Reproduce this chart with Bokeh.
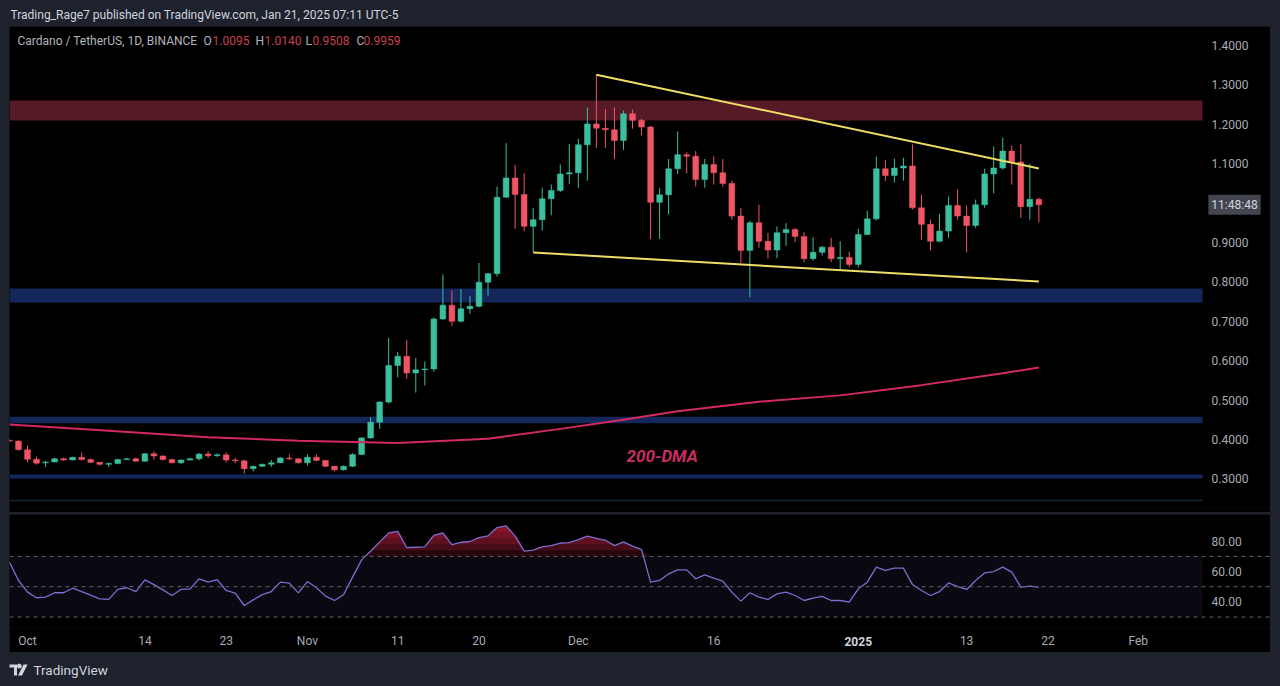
import numpy as np
import pandas as pd
from bokeh.plotting import figure
from bokeh.layouts import column
from bokeh.models import (Range1d, FixedTicker, NumeralTickFormatter, BoxAnnotation,
                          Span, Label, ColumnDataSource, LinearAxis)
from bokeh.embed import file_html
from bokeh.resources import INLINE

# ---------------- data ----------------
dates = pd.date_range("2024-09-29", "2025-01-21", freq="D")
opens = [0.398, 0.396, 0.374, 0.350, 0.341, 0.343, 0.351, 0.348, 0.355, 0.349,
         0.342, 0.337, 0.339, 0.349, 0.351, 0.345, 0.364, 0.358, 0.349, 0.341,
         0.348, 0.351, 0.363, 0.359, 0.361, 0.348, 0.346, 0.326, 0.332, 0.337,
         0.341, 0.353, 0.351, 0.341, 0.355, 0.347, 0.332, 0.323, 0.332, 0.362,
         0.404, 0.444, 0.495, 0.588, 0.611, 0.569, 0.577, 0.579, 0.706, 0.741,
         0.700, 0.732, 0.738, 0.799, 0.821, 1.015, 1.064, 1.022, 0.941, 0.958,
         1.011, 1.032, 1.074, 1.077, 1.148, 1.201, 1.190, 1.186, 1.159, 1.227,
         1.210, 1.193, 1.002, 1.021, 1.087, 1.123, 1.119, 1.060, 1.098, 1.077,
         1.050, 0.967, 0.880, 0.950, 0.903, 0.881, 0.925, 0.933, 0.915, 0.859,
         0.875, 0.888, 0.859, 0.862, 0.844, 0.920, 0.960, 1.087, 1.070, 1.089,
         1.094, 0.988, 0.946, 0.903, 0.929, 0.994, 0.967, 0.943, 0.996, 1.074,
         1.089, 1.132, 1.104, 0.991, 1.0095]
highs = [0.400, 0.398, 0.385, 0.357, 0.345, 0.354, 0.354, 0.356, 0.367, 0.352,
         0.343, 0.342, 0.351, 0.353, 0.354, 0.366, 0.370, 0.360, 0.351, 0.349,
         0.354, 0.366, 0.370, 0.365, 0.367, 0.353, 0.348, 0.333, 0.339, 0.348,
         0.355, 0.362, 0.353, 0.362, 0.362, 0.348, 0.333, 0.334, 0.365, 0.406,
         0.457, 0.497, 0.658, 0.622, 0.653, 0.607, 0.598, 0.710, 0.819, 0.778,
         0.782, 0.764, 0.848, 0.823, 1.042, 1.152, 1.097, 1.076, 0.988, 1.039,
         1.047, 1.098, 1.150, 1.163, 1.243, 1.328, 1.239, 1.243, 1.235, 1.237,
         1.214, 1.196, 1.038, 1.112, 1.182, 1.129, 1.132, 1.112, 1.119, 1.112,
         1.057, 0.988, 0.955, 0.996, 0.924, 0.941, 0.949, 0.937, 0.926, 0.913,
         0.892, 0.912, 0.903, 0.877, 0.935, 0.981, 1.118, 1.110, 1.113, 1.115,
         1.149, 1.022, 0.958, 0.973, 1.017, 1.035, 0.994, 1.009, 1.087, 1.144,
         1.166, 1.146, 1.150, 1.100, 1.0140]
lows = [0.394, 0.372, 0.342, 0.336, 0.330, 0.342, 0.346, 0.347, 0.347, 0.340,
        0.334, 0.330, 0.337, 0.348, 0.344, 0.343, 0.349, 0.347, 0.339, 0.338,
        0.347, 0.347, 0.353, 0.356, 0.342, 0.340, 0.313, 0.319, 0.330, 0.330,
        0.340, 0.348, 0.339, 0.334, 0.345, 0.330, 0.319, 0.321, 0.330, 0.360,
        0.402, 0.427, 0.491, 0.558, 0.554, 0.519, 0.537, 0.572, 0.703, 0.688,
        0.697, 0.719, 0.735, 0.765, 0.814, 1.013, 0.935, 0.929, 0.875, 0.930,
        0.969, 1.028, 1.049, 1.038, 1.057, 1.140, 1.140, 1.112, 1.135, 1.189,
        1.172, 0.909, 0.909, 0.971, 1.074, 1.076, 1.042, 1.039, 1.047, 1.042,
        0.958, 0.848, 0.761, 0.887, 0.859, 0.860, 0.891, 0.901, 0.850, 0.854,
        0.867, 0.850, 0.829, 0.837, 0.837, 0.919, 0.956, 1.056, 1.052, 1.057,
        0.984, 0.907, 0.880, 0.900, 0.912, 0.958, 0.875, 0.937, 0.988, 1.025,
        1.085, 1.047, 0.963, 0.958, 0.9508]
closes = [0.396, 0.374, 0.350, 0.340, 0.343, 0.351, 0.348, 0.355, 0.349, 0.342,
          0.337, 0.339, 0.349, 0.351, 0.345, 0.364, 0.358, 0.349, 0.341, 0.348,
          0.351, 0.363, 0.359, 0.361, 0.348, 0.346, 0.326, 0.332, 0.337, 0.341,
          0.353, 0.351, 0.341, 0.355, 0.347, 0.332, 0.323, 0.332, 0.362, 0.404,
          0.444, 0.495, 0.588, 0.611, 0.569, 0.577, 0.579, 0.706, 0.741, 0.700,
          0.732, 0.738, 0.799, 0.821, 1.015, 1.064, 1.022, 0.941, 0.958, 1.011,
          1.032, 1.074, 1.077, 1.148, 1.201, 1.190, 1.186, 1.159, 1.227, 1.210,
          1.193, 1.002, 1.021, 1.087, 1.123, 1.119, 1.060, 1.098, 1.077, 1.050,
          0.967, 0.880, 0.950, 0.903, 0.881, 0.925, 0.933, 0.915, 0.859, 0.875,
          0.888, 0.859, 0.862, 0.844, 0.920, 0.960, 1.087, 1.070, 1.089, 1.094,
          0.988, 0.946, 0.903, 0.929, 0.994, 0.967, 0.943, 0.996, 1.074, 1.089,
          1.132, 1.104, 0.991, 1.0095, 0.9959]
rsi = [66.2, 54.1, 46.4, 42.7, 43.1, 46.0, 46.0, 49.0, 46.8, 44.4,
       42.0, 41.6, 48.2, 49.3, 46.8, 54.5, 51.4, 47.9, 44.2, 48.2,
       48.6, 55.2, 53.0, 54.7, 47.5, 45.8, 37.6, 41.3, 44.8, 46.8,
       53.0, 52.3, 45.9, 53.4, 49.3, 43.8, 40.9, 44.7, 56.3, 67.7,
       73.4, 79.4, 85.4, 86.5, 75.7, 76.0, 76.2, 83.9, 85.4, 77.8,
       79.3, 79.8, 82.4, 83.5, 89.0, 90.1, 83.3, 73.4, 74.1, 76.2,
       77.1, 78.8, 79.0, 81.0, 83.3, 81.9, 80.6, 77.1, 79.5, 76.8,
       74.4, 53.0, 54.1, 58.5, 61.1, 61.1, 55.2, 57.8, 55.6, 53.6,
       46.4, 40.5, 46.0, 43.1, 41.6, 45.3, 46.4, 44.2, 40.9, 42.5,
       43.6, 40.9, 40.9, 39.8, 48.6, 53.0, 62.9, 60.7, 62.2, 62.2,
       51.5, 47.5, 44.2, 46.8, 52.5, 50.1, 48.2, 54.1, 59.1, 60.0,
       62.9, 59.6, 49.7, 50.4, 49.7]

dma_dates = ["2024-09-29", "2024-10-10", "2024-10-21", "2024-10-31", "2024-11-11",
             "2024-11-21", "2024-11-29", "2024-12-06", "2024-12-12", "2024-12-21",
             "2024-12-30", "2025-01-08", "2025-01-17", "2025-01-21"]
dma_values = [0.438, 0.422, 0.406, 0.397, 0.391, 0.402, 0.427, 0.450, 0.472, 0.496,
              0.512, 0.538, 0.568, 0.583]

upper_line_dates = ["2024-12-03", "2025-01-21"]
upper_line_prices = [1.326, 1.088]
lower_line_dates = ["2024-11-26", "2025-01-21"]
lower_line_prices = [0.8746, 0.801]

resistance_zone = (1.2096, 1.2604)
support_zones = [(0.748, 0.783), (0.441, 0.458), (0.301, 0.311)]
faint_zone = (0.243, 0.247)

price_ticks = [0.3, 0.4, 0.5, 0.6, 0.7, 0.8, 0.9, 1.1, 1.2, 1.3, 1.4]
rsi_ticks = [40, 60, 80]
rsi_levels = [70, 50, 30]
date_tick_days = ["2024-10-01", "2024-10-14", "2024-10-23", "2024-11-01", "2024-11-11",
                  "2024-11-20", "2024-12-01", "2024-12-16", "2025-01-13",
                  "2025-01-22", "2025-02-01"]
date_tick_labels = ["Oct", "14", "23", "Nov", "11", "20", "Dec", "16", "13", "22", "Feb"]
year_tick_day = "2025-01-01"
year_tick_label = "2025"

# ---------------- styling ----------------
SLATE = "#1e222d"
BLACK = "#000000"
UP = "#3cbf9e"
DOWN = "#f05566"
AXIS_TXT = "#a9acb5"
FONT = "Roboto"

ORIGIN = pd.Timestamp("2024-10-01")
def to_x(ds):
    return np.array([(pd.Timestamp(d) - ORIGIN).days for d in ds], dtype=float)

x = to_x(dates)

# page-pixel geometry: day 0 at x=27 px, 9.03 px per day; frame spans 9..1270
PX0, PPD = 27.0, 9.03
def px2x(px):
    return (px - PX0) / PPD
X0, X1 = px2x(9), px2x(1270)      # frame (incl. price-scale strip)
XS = px2x(1202)                   # where the plotting area meets the price scale
P_BOT, P_TOP = 0.2249, 1.4482
R_BOT, R_TOP = 23.1, 97.6
def py2p(py):
    return P_TOP - (py - 26) / 482.0 * (P_TOP - P_BOT)

def style_right_axis(ax, ticks, fmt):
    ax.ticker = FixedTicker(ticks=ticks)
    ax.formatter = NumeralTickFormatter(format=fmt)
    ax.axis_line_color = None
    ax.major_tick_line_color = None
    ax.minor_tick_line_color = None
    ax.major_tick_out = 0
    ax.minor_tick_out = 0
    ax.major_label_standoff = -59
    ax.major_label_text_color = AXIS_TXT
    ax.major_label_text_font = FONT
    ax.major_label_text_font_size = "12px"

def style_date_axis(ax, ticks, labels, standoff, color, style):
    ax.ticker = FixedTicker(ticks=list(ticks))
    ax.major_label_overrides = {float(t): lab for t, lab in zip(ticks, labels)}
    ax.axis_line_color = None
    ax.major_tick_line_color = None
    ax.minor_tick_line_color = None
    ax.major_tick_out = 0
    ax.minor_tick_out = 0
    ax.major_label_standoff = standoff
    ax.major_label_text_color = color
    ax.major_label_text_font = FONT
    ax.major_label_text_font_size = "12px"
    ax.major_label_text_font_style = style

# ---------------- header ----------------
head = figure(width=1280, height=26, x_range=Range1d(0, 1280), y_range=Range1d(26, 0),
              output_backend="svg", toolbar_location=None, x_axis_location=None,
              y_axis_location=None, min_border=0, outline_line_color=None,
              background_fill_color=SLATE, border_fill_color=SLATE)
head.grid.visible = False
head.add_layout(Label(x=10, y=14, text="Trading_Rage7 published on TradingView.com, Jan 21, 2025 07:11 UTC-5",
                      text_font=FONT, text_font_size="12px", text_color="#d1d4dc",
                      text_baseline="middle", text_align="left"))

# ---------------- price pane ----------------
p = figure(width=1261, height=486, x_range=Range1d(X0, X1), y_range=Range1d(P_BOT, P_TOP),
           output_backend="svg", toolbar_location=None, x_axis_location=None,
           y_axis_location="right", min_border_left=0, min_border_right=0,
           min_border_top=0, min_border_bottom=4, outline_line_color=None,
           background_fill_color=BLACK, border_fill_color=BLACK)
p.margin = (0, 10, 0, 9)
p.grid.visible = False
style_right_axis(p.yaxis[0], price_ticks, "0.0000")

p.add_layout(BoxAnnotation(right=XS, bottom=resistance_zone[0], top=resistance_zone[1],
                           fill_color="#551a25", fill_alpha=1.0, line_color=None, level="underlay"))
for lo, hi in support_zones:
    p.add_layout(BoxAnnotation(right=XS, bottom=lo, top=hi, fill_color="#14275a", fill_alpha=1.0,
                               line_color=None, level="underlay"))
p.add_layout(BoxAnnotation(right=XS, bottom=faint_zone[0], top=faint_zone[1], fill_color="#1a2440",
                           fill_alpha=1.0, line_color=None, level="underlay"))

o = np.array(opens); c = np.array(closes)
src = ColumnDataSource(dict(x=x, o=o, h=highs, l=lows, c=c,
                            top=np.maximum(o, c), bottom=np.minimum(o, c),
                            color=[UP if cc >= oo else DOWN for oo, cc in zip(o, c)]))
p.segment(x0="x", y0="l", x1="x", y1="h", color="color", line_width=1, source=src)
p.vbar(x="x", width=0.64, top="top", bottom="bottom", fill_color="color",
       line_color="color", line_width=0.5, source=src)

p.line(to_x(dma_dates), dma_values, line_color="#d42a62", line_width=2)
p.segment(x0=to_x(upper_line_dates)[:1], y0=upper_line_prices[:1],
          x1=to_x(upper_line_dates)[1:], y1=upper_line_prices[1:],
          line_color="#eedd66", line_width=2)
p.segment(x0=to_x(lower_line_dates)[:1], y0=lower_line_prices[:1],
          x1=to_x(lower_line_dates)[1:], y1=lower_line_prices[1:],
          line_color="#eedd66", line_width=2)

p.add_layout(Label(x=px2x(626), y=py2p(455), text="200-DMA", text_font=FONT,
                   text_font_size="17px", text_font_style="bold italic", text_color="#c92d60",
                   text_baseline="middle", text_align="left"))

# legend line at top-left
hdr_y = py2p(40)
pieces = [(17, "Cardano / TetherUS, 1D, BINANCE", "#b2b5be"),
          (203, "O", "#b2b5be"), (212, f"{opens[-1]:.4f}", "#cc3f50"),
          (255, "H", "#b2b5be"), (264, f"{highs[-1]:.4f}", "#cc3f50"),
          (305, "L", "#b2b5be"), (312, f"{lows[-1]:.4f}", "#cc3f50"),
          (356, "C", "#b2b5be"), (363, f"{closes[-1]:.4f}", "#cc3f50")]
for px, t, col in pieces:
    p.add_layout(Label(x=px2x(px), y=hdr_y, text=t, text_font=FONT, text_font_size="12px",
                       text_color=col, text_baseline="middle", text_align="left"))

# countdown badge on the price scale at the last close
p.add_layout(Label(x=px2x(1234), y=closes[-1], text="11:48:48", text_font=FONT,
                   text_font_size="12px", text_color="#d1d4dc", text_baseline="middle",
                   text_align="center", background_fill_color="#434651", background_fill_alpha=1.0,
                   padding=3))

# ---------------- RSI pane ----------------
r = figure(width=1261, height=138, x_range=p.x_range, y_range=Range1d(R_BOT, R_TOP),
           output_backend="svg", toolbar_location=None, x_axis_location="below",
           y_axis_location="right", min_border_left=0, min_border_right=0,
           min_border_top=0, min_border_bottom=25, outline_line_color=None,
           background_fill_color=BLACK, border_fill_color=BLACK)
r.margin = (2, 10, 0, 9)
r.grid.visible = False
style_right_axis(r.yaxis[0], rsi_ticks, "0.00")

style_date_axis(r.xaxis[0], to_x(date_tick_days), date_tick_labels, 6, AXIS_TXT, "normal")
year_axis = LinearAxis()
style_date_axis(year_axis, to_x([year_tick_day]), [year_tick_label], -14, "#d1d4dc", "bold")
r.add_layout(year_axis, "below")

r.add_layout(BoxAnnotation(right=XS, bottom=30, top=70, fill_color="#7e57c2", fill_alpha=0.09,
                           line_color=None, level="underlay"))
for lv in rsi_levels:
    r.add_layout(Span(location=lv, dimension="width", line_color="#5f626c",
                      line_dash="4 4", line_width=1))

rsi_arr = np.array(rsi)
for lv in [70, 74, 78, 82, 86]:
    r.varea(x=x, y1=np.full_like(rsi_arr, lv), y2=np.maximum(rsi_arr, lv),
            fill_color="#c3213f", fill_alpha=0.2)
r.line(x, rsi, line_color="#7c6dd0", line_width=1.3)

# ---------------- footer ----------------
foot = figure(width=1280, height=34, x_range=Range1d(0, 1280), y_range=Range1d(34, 0),
              output_backend="svg", toolbar_location=None, x_axis_location=None,
              y_axis_location=None, min_border=0, outline_line_color=None,
              background_fill_color=SLATE, border_fill_color=SLATE)
foot.grid.visible = False
foot.patches(xs=[[9, 16.5, 16.5, 13.5, 13.5, 9], [17.5, 21.5, 27, 23]],
             ys=[[12, 12, 23, 23, 15, 15], [23, 23, 12, 12]],
             fill_color="#d1d4dc", line_color=None)
foot.scatter(x=[18.8], y=[13.6], size=4, color="#d1d4dc")
foot.add_layout(Label(x=33, y=17, text="TradingView", text_font=FONT, text_font_size="13.5px",
                      text_color="#d1d4dc", text_baseline="middle", text_align="left"))

root = column(head, p, r, foot, spacing=0, styles={"background-color": SLATE})
open("out.html", "w").write(file_html(root, INLINE))
